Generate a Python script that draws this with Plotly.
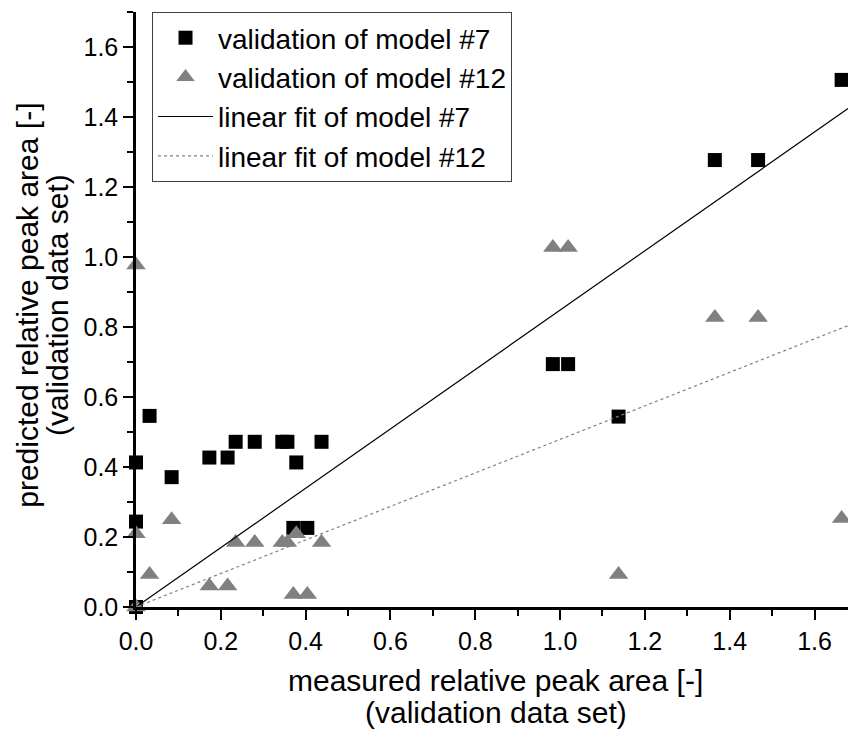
import plotly.graph_objects as go

# measured (x) values shared by both models
measured = [0.0, 0.0, 0.0, 0.032, 0.084, 0.173, 0.216, 0.235, 0.280, 0.345, 0.357,
            0.378, 0.371, 0.404, 0.4375, 0.983, 1.019, 1.138, 1.365, 1.467, 1.664]
pred_model7 = [0.0, 0.413, 0.244, 0.546, 0.371, 0.427, 0.427, 0.472, 0.472, 0.472, 0.472,
               0.413, 0.226, 0.226, 0.472, 0.694, 0.694, 0.544, 1.277, 1.277, 1.506]
pred_model12 = [0.0, 0.209, 0.977, 0.093, 0.249, 0.060, 0.060, 0.184, 0.184, 0.184, 0.184,
                0.209, 0.036, 0.036, 0.184, 1.027, 1.027, 0.093, 0.827, 0.827, 0.253]

fit_x = [0.0, 1.679]
fit7_y = [0.0, 1.424]
fit12_y = [0.0, 0.804]

tick_vals = [0.0, 0.2, 0.4, 0.6, 0.8, 1.0, 1.2, 1.4, 1.6]
tick_text = ["0.0", "0.2", "0.4", "0.6", "0.8", "1.0", "1.2", "1.4", "1.6"]

x_title_lines = ["measured relative peak area [-]", "(validation data set)"]
y_title_lines = ["predicted relative peak area [-]", "(validation data set)"]

FONT = "Liberation Sans, Arial, sans-serif"

fig = go.Figure()
fig.add_trace(go.Scatter(
    x=measured, y=pred_model7, mode="markers", name="validation of model #7",
    marker=dict(symbol="square", size=14, color="black", line=dict(width=0)),
    cliponaxis=False))
fig.add_trace(go.Scatter(
    x=measured, y=pred_model12, mode="markers", name="validation of model #12",
    marker=dict(symbol="triangle-up", size=17, color="#808080", line=dict(width=0)),
    cliponaxis=False))
fig.add_trace(go.Scatter(
    x=fit_x, y=fit7_y, mode="lines", name="linear fit of model #7",
    line=dict(color="black", width=1.2), cliponaxis=False))
fig.add_trace(go.Scatter(
    x=fit_x, y=fit12_y, mode="lines", name="linear fit of model #12",
    line=dict(color="#808080", width=1.2, dash="3px,3px"), cliponaxis=False))

axis_common = dict(
    showline=True, linecolor="black", linewidth=2.5,
    ticks="outside", ticklen=10, tickwidth=2, tickcolor="black",
    tickvals=tick_vals, ticktext=tick_text,
    tickfont=dict(family=FONT, size=25, color="black"),
    showgrid=False, zeroline=False,
    minor=dict(ticks="outside", ticklen=6, tickwidth=2, tickcolor="black", dtick=0.1, showgrid=False),
)

title_font = dict(family=FONT, size=30, color="black")
annotations = [
    dict(text=x_title_lines[0], xref="paper", yref="paper", x=0.5056, y=-0.1227,
         xanchor="center", yanchor="middle", showarrow=False, font=title_font),
    dict(text=x_title_lines[1], xref="paper", yref="paper", x=0.5056, y=-0.1765,
         xanchor="center", yanchor="middle", showarrow=False, font=title_font),
    dict(text=y_title_lines[0], xref="paper", yref="paper", x=-0.152, y=0.5076,
         xanchor="center", yanchor="middle", showarrow=False, font=title_font, textangle=-90),
    dict(text=y_title_lines[1], xref="paper", yref="paper", x=-0.1095, y=0.5076,
         xanchor="center", yanchor="middle", showarrow=False, font=title_font, textangle=-90),
]

fig.update_layout(
    width=848, height=733,
    margin=dict(l=136, r=0, t=12, b=126),
    paper_bgcolor="white", plot_bgcolor="white",
    font=dict(family=FONT, color="black"),
    xaxis=dict(range=[0, 1.679], **axis_common),
    yaxis=dict(range=[0, 1.70], **axis_common),
    legend=dict(x=0.0225, y=1.0, xanchor="left", yanchor="top",
                bgcolor="white", bordercolor="#404040", borderwidth=1,
                font=dict(family=FONT, size=28, color="black"),
                itemwidth=55, tracegroupgap=0),
    annotations=annotations,
    showlegend=True,
)

fig.write_html("out.html")
